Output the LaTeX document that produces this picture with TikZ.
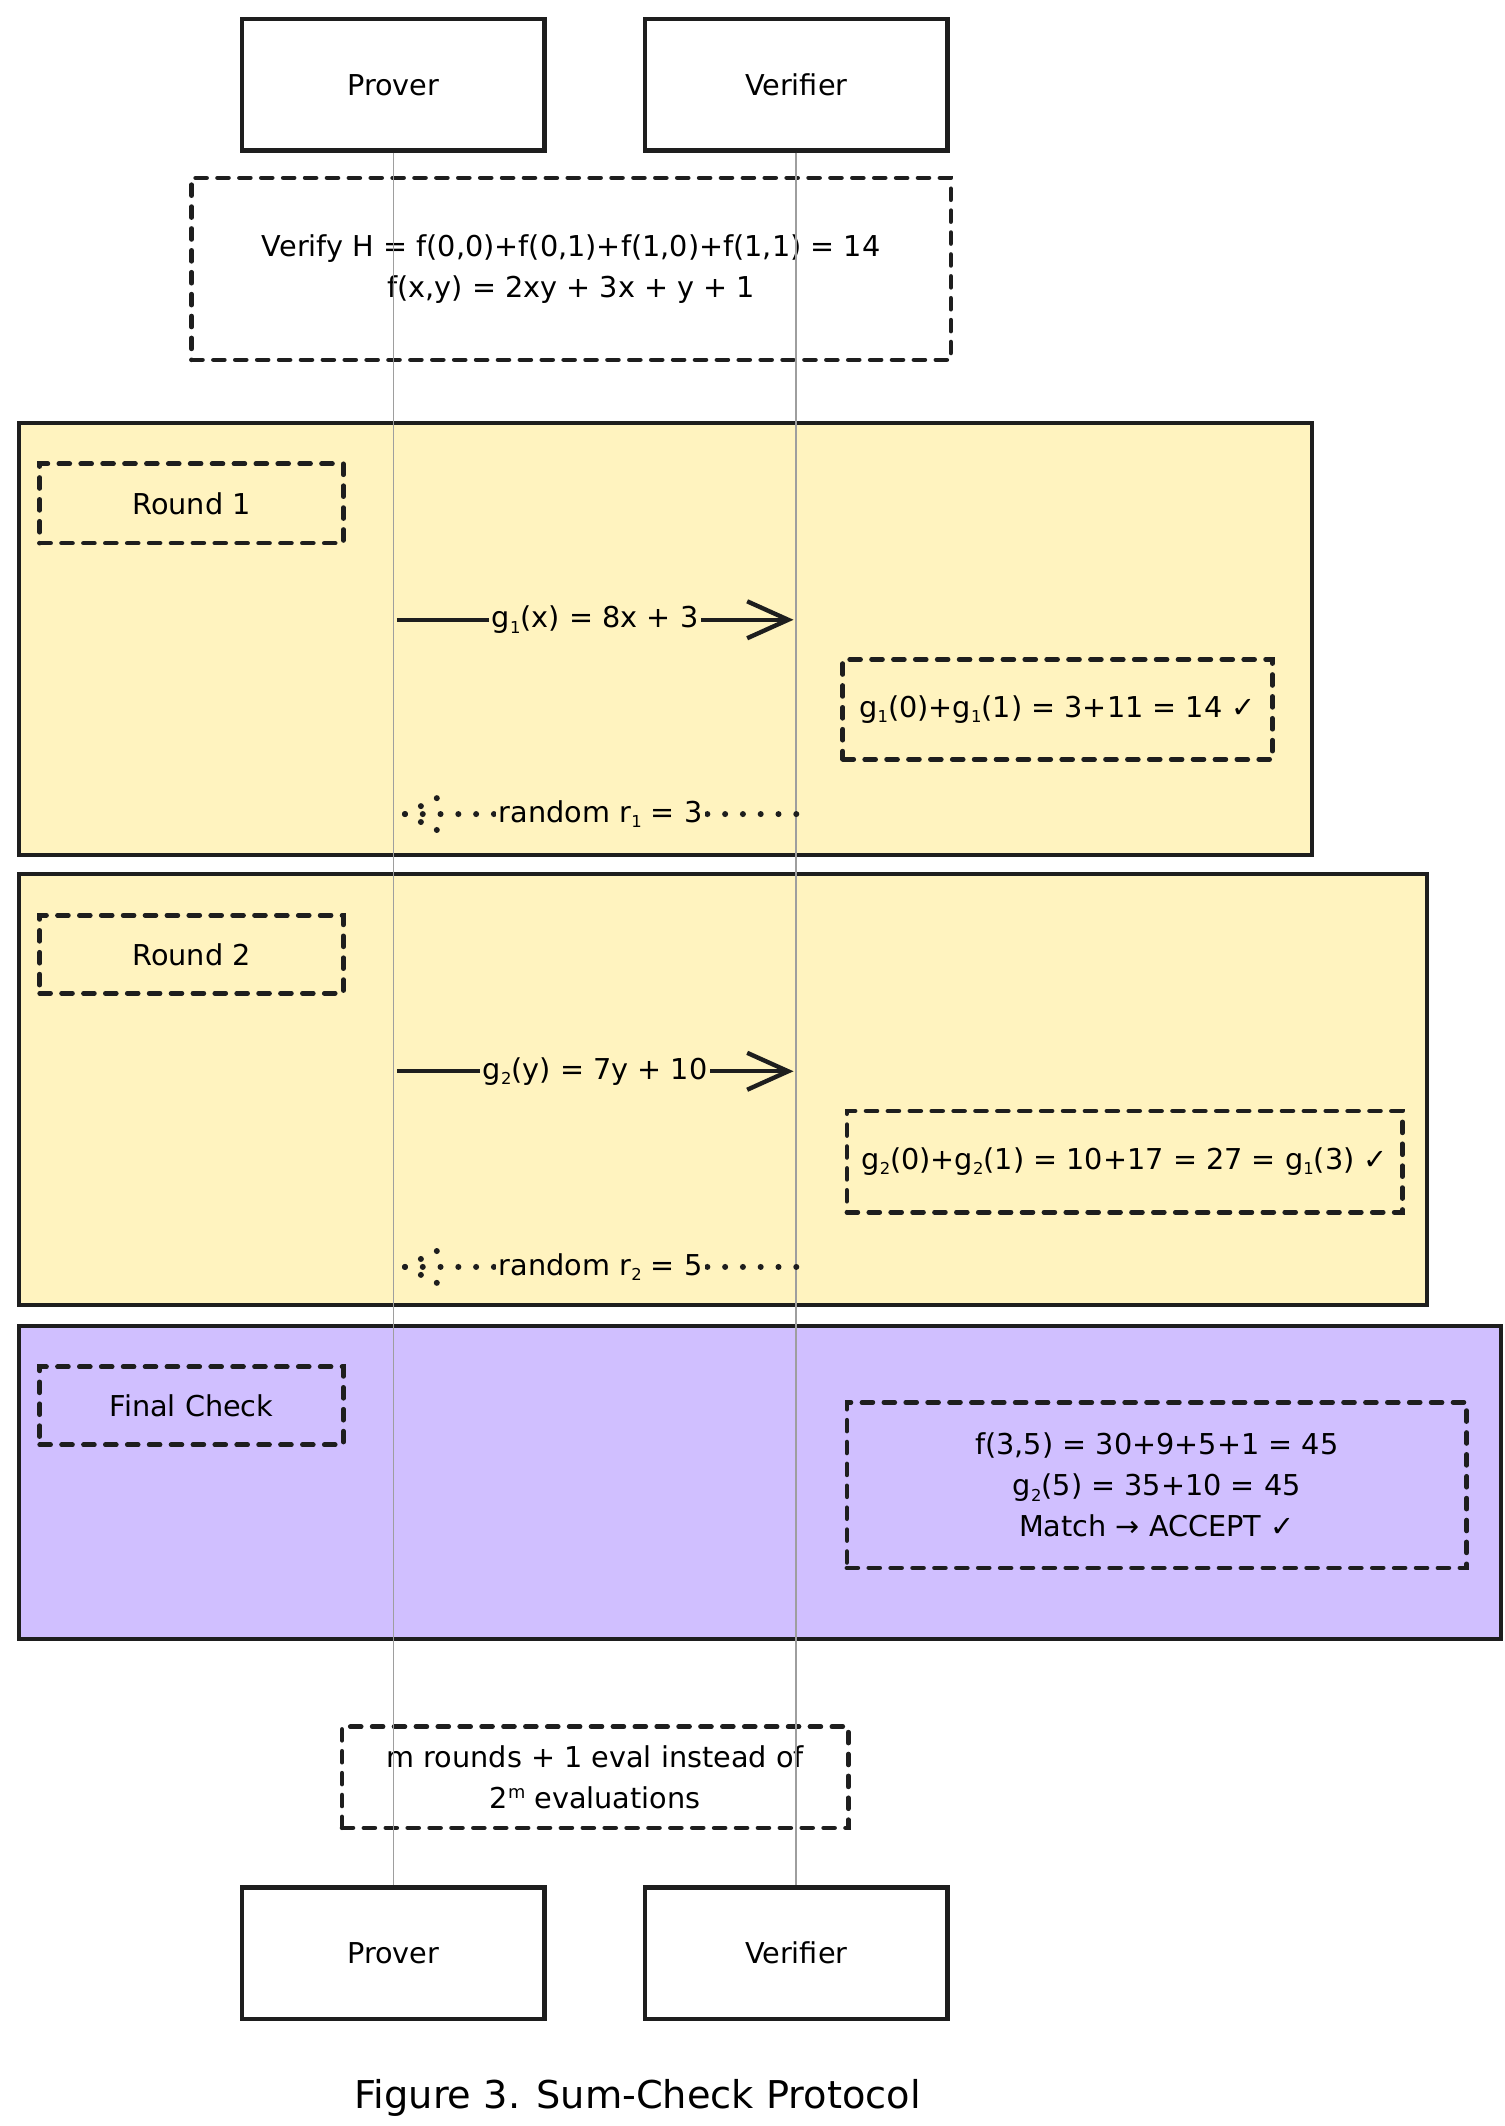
\documentclass[tikz,border=0pt]{standalone}
\usepackage{fontspec}
\setmainfont{DejaVu Sans}
\usetikzlibrary{arrows.meta,calc}
\definecolor{ink}{HTML}{1E1E1E}
\definecolor{ybg}{HTML}{FFF3BF}
\definecolor{pbg}{HTML}{D0BFFF}
\definecolor{lgray}{HTML}{9E9E9E}
\newcommand\sbs[1]{\raisebox{-4pt}{\fontsize{12}{12}\selectfont #1}}
\newcommand\sps[1]{\raisebox{7pt}{\fontsize{13}{13}\selectfont #1}}
\tikzset{
  actor/.style={draw=ink, line width=3.2pt, fill=white, minimum width=221pt, minimum height=96pt, inner sep=0pt, font=\fontsize{21}{30}\selectfont},
  frame/.style={draw=ink, line width=3.2pt, inner sep=0pt},
  dbox/.style={draw=ink, line width=3.4pt, dash pattern=on 8pt off 8pt, line cap=round, align=center, inner sep=0pt, font=\fontsize{21}{30}\selectfont},
  lifeline/.style={draw=lgray, line width=1.2pt},
  msg/.style={draw=ink, line width=3.2pt, -{Straight Barb[length=30pt,width=27pt]}},
  dotmsg/.style={draw=ink, line width=4.4pt, line cap=round, dash pattern=on 0pt off 13pt},
  lbl/.style={fill=ybg, inner sep=2pt, font=\fontsize{21}{30}\selectfont},
}
\begin{document}
\begin{tikzpicture}[x=1pt,y=-1pt]
\useasboundingbox (0,0) rectangle (1100,1553.9);
% actors
\node[actor] (pt) at (287.5,62) {Prover};
\node[actor] (vt) at (582,62) {Verifier};
\node[actor] (pb) at (287.5,1427.5) {Prover};
\node[actor] (vb) at (582,1427.5) {Verifier};
% frames
\node[frame, fill=ybg, minimum width=945pt, minimum height=316pt] (fr1) at (486.5,467) {};
\node[frame, fill=ybg, minimum width=1029pt, minimum height=315pt] (fr2) at (528.5,796.5) {};
\node[frame, fill=pbg, minimum width=1083pt, minimum height=229pt] (fr3) at (555.5,1083.5) {};
% dashed boxes
\node[dbox, minimum width=555pt, minimum height=133pt] (hyp) at (417.5,196.5) {Verify H = f(0,0)+f(0,1)+f(1,0)+f(1,1) = 14\\f(x,y) = 2xy + 3x + y + 1};
\node[dbox, minimum width=222pt, minimum height=58pt] (rd1) at (140,368) {Round 1};
\node[dbox, minimum width=314pt, minimum height=73pt] (ck1) at (773,518.5) {g\sbs{1}(0)+g\sbs{1}(1) = 3+11 = 14 ✓};
\node[dbox, minimum width=222pt, minimum height=57pt] (rd2) at (140,697.5) {Round 2};
\node[dbox, minimum width=406pt, minimum height=74pt] (ck2) at (822,849) {g\sbs{2}(0)+g\sbs{2}(1) = 10+17 = 27 = g\sbs{1}(3) ✓};
\node[dbox, minimum width=222pt, minimum height=57pt] (fin) at (140,1027.5) {Final Check};
\node[dbox, minimum width=453pt, minimum height=121pt] (res) at (845.5,1085.5) {f(3,5) = 30+9+5+1 = 45\\g\sbs{2}(5) = 35+10 = 45\\Match → ACCEPT ✓};
\node[dbox, minimum width=370pt, minimum height=74pt] (note) at (435,1299) {m rounds + 1 eval instead of\\2\sps{m} evaluations};
% lifelines
\draw[lifeline] (pt.south) -- (pb.north);
\draw[lifeline] (vt.south) -- (vb.north);
% round 1 messages
\coordinate (m1s) at (290,453);
\coordinate (m1e) at (580,453);
\draw[msg] (m1s) -- node[lbl] (l1) {g\sbs{1}(x) = 8x + 3} (m1e);
\coordinate (r1s) at (582,595);
\coordinate (r1e) at (296,595);
\draw[dotmsg] (r1s) -- node[lbl] (l2) {random r\sbs{1} = 3} (r1e);
\draw[dotmsg] (r1e) -- ++(28,-14);
\draw[dotmsg] (r1e) -- ++(28,14);
% round 2 messages
\coordinate (m2s) at (290,783);
\coordinate (m2e) at (580,783);
\draw[msg] (m2s) -- node[lbl] (l3) {g\sbs{2}(y) = 7y + 10} (m2e);
\coordinate (r2s) at (582,926);
\coordinate (r2e) at (296,926);
\draw[dotmsg] (r2s) -- node[lbl] (l4) {random r\sbs{2} = 5} (r2e);
\draw[dotmsg] (r2e) -- ++(28,-14);
\draw[dotmsg] (r2e) -- ++(28,14);
% caption
\node[font=\fontsize{28}{34}\selectfont] (cap) at (466,1533) {Figure 3. Sum-Check Protocol};
\end{tikzpicture}
\end{document}
